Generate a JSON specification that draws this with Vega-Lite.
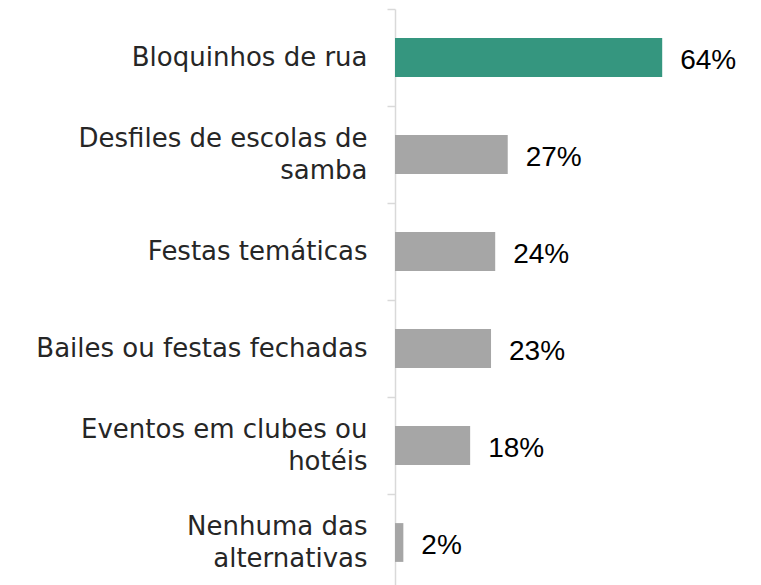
{
  "$schema": "https://vega.github.io/schema/vega-lite/v6.json",
  "width": 334,
  "height": 582,
  "autosize": "none",
  "padding": {"left": 395, "top": 9, "right": 32, "bottom": 0},
  "background": "white",
  "config": {"view": {"stroke": null}},
  "data": {
    "values": [
      {"cat": "Bloquinhos de rua", "pct": 0.64},
      {"cat": "Desfiles de escolas de\nsamba", "pct": 0.27},
      {"cat": "Festas temáticas", "pct": 0.24},
      {"cat": "Bailes ou festas fechadas", "pct": 0.23},
      {"cat": "Eventos em clubes ou\nhotéis", "pct": 0.18},
      {"cat": "Nenhuma das\nalternativas", "pct": 0.02}
    ]
  },
  "encoding": {
    "y": {
      "field": "cat",
      "type": "nominal",
      "sort": null,
      "scale": {"paddingInner": 0, "paddingOuter": 0},
      "axis": {
        "title": null,
        "tickBand": "extent",
        "tickSize": 8,
        "tickColor": "#d9d9d9",
        "tickWidth": 1.5,
        "domainColor": "#d9d9d9",
        "domainWidth": 1.5,
        "labelExpr": "split(datum.label, '\\n')",
        "labelFont": "DejaVu Sans",
        "labelFontSize": 26,
        "labelColor": "#262626",
        "labelLineHeight": 32,
        "labelPadding": 20,
        "labelAlign": "right",
        "labelBaseline": "middle",
        "labelLimit": 400,
        "labelOffset": {
          "condition": {"test": "length(split(datum.label, '\\n')) > 1", "value": -16},
          "value": 0
        }
      }
    },
    "x": {
      "field": "pct",
      "type": "quantitative",
      "scale": {"domain": [0, 0.8]},
      "axis": null
    }
  },
  "layer": [
    {
      "mark": {"type": "bar", "height": {"band": 0.4}},
      "encoding": {
        "color": {
          "condition": {"test": "datum.cat === 'Bloquinhos de rua'", "value": "#35967F"},
          "value": "#A6A6A6"
        }
      }
    },
    {
      "mark": {
        "type": "text",
        "align": "left",
        "baseline": "middle",
        "dx": 18,
        "dy": 3,
        "font": "Liberation Sans",
        "fontSize": 28,
        "color": "#000000"
      },
      "encoding": {
        "text": {"field": "pct", "type": "quantitative", "format": ".0%"}
      }
    }
  ]
}
